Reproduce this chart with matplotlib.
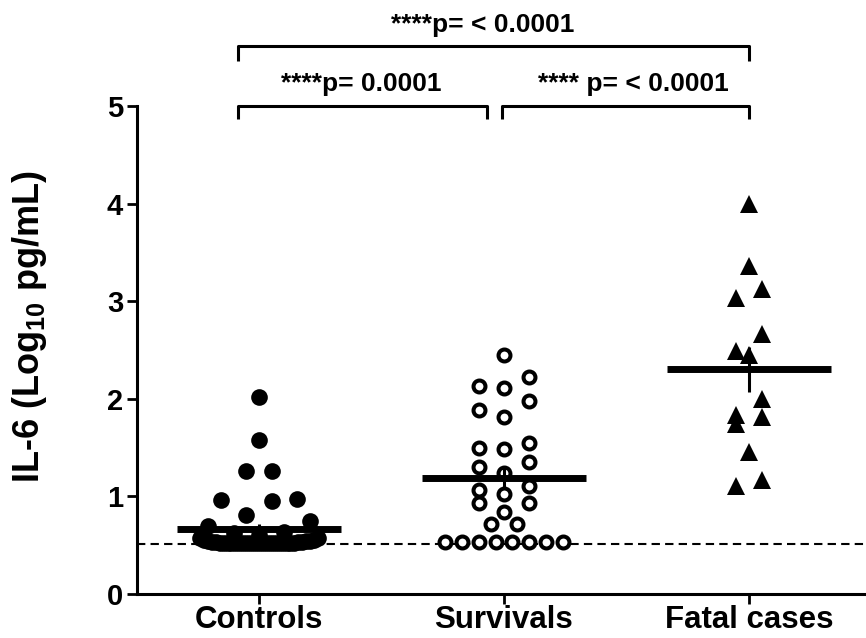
import numpy as np
import matplotlib
matplotlib.use("Agg")
import matplotlib.pyplot as plt

plt.rcParams["font.family"] = ["Liberation Sans", "DejaVu Sans"]
plt.rcParams["font.weight"] = "bold"
plt.rcParams["mathtext.fontset"] = "custom"
plt.rcParams["mathtext.rm"] = "Liberation Sans:bold"
plt.rcParams["mathtext.default"] = "rm"

# IL-6, log10 pg/mL
GROUPS = ["Controls", "Survivals", "Fatal cases"]
controls = [2.02, 1.58, 1.26, 1.26, 0.97, 0.96, 0.95, 0.81, 0.75, 0.70,
            0.64, 0.62, 0.60, 0.57, 0.57, 0.55, 0.55, 0.54, 0.54, 0.54,
            0.53, 0.53, 0.53, 0.53, 0.52, 0.52, 0.52, 0.52, 0.52, 0.52,
            0.52, 0.52, 0.52, 0.52, 0.52, 0.52, 0.52, 0.52, 0.52, 0.52,
            0.52, 0.52, 0.52, 0.52]
survivals = [2.45, 2.22, 2.13, 2.11, 1.98, 1.89, 1.81, 1.55, 1.50, 1.49,
             1.35, 1.30, 1.24, 1.11, 1.07, 1.02, 0.93, 0.93, 0.84, 0.72,
             0.72, 0.53, 0.53, 0.53, 0.53, 0.53, 0.53, 0.53, 0.53]
fatal = [4.00, 3.36, 3.12, 3.03, 2.66, 2.49, 2.45, 2.00, 1.83, 1.81,
         1.74, 1.45, 1.17, 1.11]
DETECTION_LIMIT = 0.51

COMPARISONS = [  # (bracket from, bracket to, label x, label)
    (-0.086, 0.93, 0.416, "****p= 0.0001"),
    (0.99, 2.0, 1.527, "**** p= < 0.0001"),
    (-0.086, 2.0, 0.914, "****p= < 0.0001"),
]

fig = plt.figure(figsize=(8.66, 6.38), dpi=100)
ax = fig.add_axes([137 / 866, 44 / 638, 729 / 866, 488 / 638])
ax.set_xlim(-0.498, 2.478)
ax.set_ylim(0, 5)


def scatter_offsets(vals, row_h=17.0, step=12.7, width=118.0):
    """prism-ish column scatter: bin into rows (pixels), centre each row"""
    vals = np.asarray(vals, float)
    ypx = ax.transData.transform(np.column_stack([np.zeros_like(vals), vals]))[:, 1]
    xscale = ax.transData.transform((1, 0))[0] - ax.transData.transform((0, 0))[0]
    rows, cur, start = [], [], None
    for i in np.argsort(-vals, kind="stable"):
        if cur and ypx[start] - ypx[i] > row_h:
            rows.append(cur)
            cur = []
        if not cur:
            start = i
        cur.append(i)
    rows.append(cur)
    off = np.zeros(len(vals))
    for row in rows:
        n = len(row)
        sp = 2 * step if n < 2 else min(2 * step, width / (n - 1))
        slots = (np.arange(n) - (n - 1) / 2) * sp
        slot_order = sorted(range(n), key=lambda j: (abs(slots[j]), slots[j]))
        members = sorted(row, key=lambda i: vals[i])  # lowest goes in the middle
        for i, j in zip(members, slot_order):
            off[i] = slots[j] / xscale
    return off


styles = [
    dict(marker="o", ms=12, mfc="black", mec="black", mew=0),
    dict(marker="o", ms=8.6, mfc="white", mec="black", mew=2.9),
    dict(marker="^", ms=12.5, mfc="black", mec="black", mew=0),
]

ax.axhline(DETECTION_LIMIT, color="black", lw=1.5, ls=(0, (4, 2.5)), zorder=1)

for i, (vals, st) in enumerate(zip([controls, survivals, fatal], styles)):
    v = np.asarray(vals)
    x = i + scatter_offsets(v)
    ax.plot(x, v, ls="none", zorder=3, clip_on=False, **st)
    m = v.mean()
    sem = v.std(ddof=1) / np.sqrt(len(v))
    ax.hlines(m, i - 0.335, i + 0.335, color="black", lw=5, zorder=4)
    ax.vlines(i, m - sem, m + sem, color="black", lw=2.2, zorder=4)

# significance brackets
for k, (x0, x1, xt, txt) in enumerate(COMPARISONS):
    top = k == 2
    yb, yd = (5.61, 5.46) if top else (5.0, 4.87)
    ax.plot([x0, x0, x1, x1], [yd, yb, yb, yd], color="black", lw=2.2,
            clip_on=False, solid_capstyle="butt")
    ax.text(xt, yb + 0.1, txt, ha="center", va="bottom",
            fontsize=19, fontweight="bold")

ax.set_xticks(range(3))
ax.set_xticklabels(GROUPS, fontsize=22.5, fontweight="bold")
ax.set_yticks(range(6))
ax.tick_params(axis="y", labelsize=21, length=7, width=2, pad=3)
ax.tick_params(axis="x", length=7, width=2, pad=1)
ax.set_ylabel("IL-6 (Log$_{10}$ pg/mL)", fontsize=26, fontweight="bold")
ax.yaxis.label.set_verticalalignment("center")
ax.yaxis.set_label_coords(-0.147, 0.547)
for s in ["top", "right"]:
    ax.spines[s].set_visible(False)
for s in ["left", "bottom"]:
    ax.spines[s].set_linewidth(2.2)

fig.savefig("out.png", dpi=100)
